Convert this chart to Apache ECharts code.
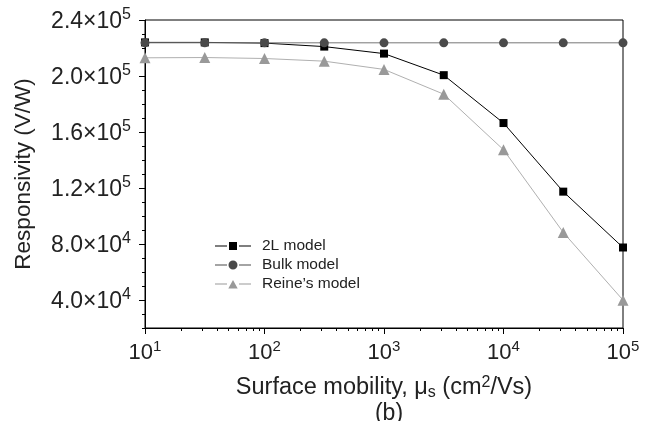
<!DOCTYPE html>
<html>
<head>
<meta charset="utf-8">
<script src="https://cdn.jsdelivr.net/npm/echarts@6/dist/echarts.min.js"></script>
<style>
  html, body { margin: 0; padding: 0; background: #fff; }
  #chart { width: 651px; height: 421px; }
</style>
</head>
<body>
<div id="chart"></div>
<script>
/**
 * DATA
 */
var mobility = [10, 31.62, 100, 316.2, 1000, 3162, 10000, 31620, 100000];
var model2L = [224000, 224000, 223500, 221000, 216000, 200600, 166400, 117400, 77500];
var bulkModel = [223700, 223700, 223700, 223700, 223700, 223700, 223700, 223700, 223700];
var reineModel = [213000, 213200, 212500, 210600, 204700, 187000, 147300, 88300, 39900];

var yLabelValues = [40000, 80000, 120000, 160000, 200000, 240000];
var xLabelValues = [10, 100, 1000, 10000, 100000];

/**
 * UTILS
 */
var FONT = 'Liberation Sans, Arial, sans-serif';

function pairs(xs, ys) {
    return xs.map(function (x, i) {
        return [x, ys[i]];
    });
}

// minor ticks of the y axis, every 1e4
var yMinorTicks = [];
for (var v = 20000; v <= 240000; v += 10000) {
    yMinorTicks.push(v);
}

// minor ticks of the log axis: 2..9 x 10^n
var xMinorTicks = [];
for (var d = 10; d < 100000; d *= 10) {
    for (var k = 2; k <= 9; k++) {
        xMinorTicks.push(k * d);
    }
}

function sciLabel(value) {
    var exp = Math.floor(Math.log10(value) + 1e-9);
    var mant = (value / Math.pow(10, exp)).toFixed(1);
    return '{b|' + mant + '\u00d710}{s|' + exp + '}';
}

// legend icons "—■—": box 42x10, tiny corner dots fix the bounding box
var CORNERS = 'M0,0h0.01v0.01h-0.01z M41.99,9.99h0.01v0.01h-0.01z ';
var DASHES = 'M0,4.5h12v1h-12z M24,4.5h12v1h-12z ';
var iconSquare = 'path://' + CORNERS + DASHES + 'M14,1h8v8h-8z';
var iconCircle = 'path://' + CORNERS + DASHES + 'M13.5,5a4.5,4.5 0 1,0 9,0a4.5,4.5 0 1,0 -9,0z';
var iconTriangle = 'path://' + CORNERS + DASHES + 'M13.3,9.5L18,1L22.7,9.5z';

/**
 * CHART
 */
var chart = echarts.init(document.getElementById('chart'), null, {renderer: 'canvas'});

var option = {
    backgroundColor: '#fff',
    animation: false,
    textStyle: {fontFamily: FONT},
    title: {
        text: '(b)',
        left: 384,
        top: 397,
        textAlign: 'center',
        textStyle: {fontFamily: FONT, fontSize: 23, fontWeight: 'normal', color: '#222'}
    },
    grid: {
        left: 145,
        right: 28,
        top: 20,
        bottom: 93,
        show: true,
        borderColor: '#000',
        borderWidth: 1,
        backgroundColor: 'transparent'
    },
    legend: {
        orient: 'vertical',
        left: 210,
        top: 233,
        itemWidth: 42,
        itemHeight: 10,
        itemGap: 3,
        data: [
            {name: '2L model', icon: iconSquare},
            {name: 'Bulk model', icon: iconCircle},
            {name: "Reine\u2019s model", icon: iconTriangle}
        ],
        textStyle: {fontFamily: FONT, fontSize: 15.5, color: '#222'}
    },
    xAxis: [
        {
            type: 'log',
            logBase: 10,
            min: 10,
            max: 100000,
            name: '{t|Surface mobility, \u03bc}{sub|s}{t| (cm}{sup|2}{t|/Vs)}',
            nameLocation: 'middle',
            nameGap: 47,
            nameTextStyle: {
                rich: {
                    t: {fontFamily: FONT, fontSize: 23.5, color: '#222'},
                    sub: {fontFamily: FONT, fontSize: 16, color: '#222', padding: [10, 0, 0, 0]},
                    sup: {fontFamily: FONT, fontSize: 16, color: '#222', padding: [0, 0, 10, 0]}
                }
            },
            axisLine: {lineStyle: {color: '#000', width: 1}},
            axisTick: {length: 6, lineStyle: {color: '#000'}},
            splitLine: {show: false},
            axisLabel: {
                margin: 11,
                customValues: xLabelValues,
                formatter: function (value) {
                    return '{b|10}{s|' + Math.round(Math.log10(value)) + '}';
                },
                rich: {
                    b: {fontFamily: FONT, fontSize: 22, color: '#222'},
                    s: {fontFamily: FONT, fontSize: 15, color: '#222', padding: [0, 0, 12, 0]}
                }
            }
        },
        {
            type: 'log',
            logBase: 10,
            min: 10,
            max: 100000,
            position: 'bottom',
            axisLine: {show: false},
            axisLabel: {show: false},
            splitLine: {show: false},
            axisTick: {length: 3, customValues: xMinorTicks, lineStyle: {color: '#000'}}
        }
    ],
    yAxis: [
        {
            type: 'value',
            min: 20000,
            max: 240000,
            interval: 20000,
            name: 'Responsivity (V/W)',
            nameLocation: 'middle',
            nameGap: 110,
            nameTextStyle: {fontFamily: FONT, fontSize: 22.5, color: '#222'},
            axisLine: {show: true, lineStyle: {color: '#000', width: 1}},
            axisTick: {show: true, length: 6, customValues: yLabelValues, lineStyle: {color: '#000'}},
            splitLine: {show: false},
            axisLabel: {
                margin: 14,
                customValues: yLabelValues,
                formatter: sciLabel,
                rich: {
                    b: {fontFamily: FONT, fontSize: 23, color: '#222', padding: [4, 0, 0, 0]},
                    s: {fontFamily: FONT, fontSize: 16, color: '#222', padding: [0, 0, 10, 0]}
                }
            }
        },
        {
            type: 'value',
            min: 20000,
            max: 240000,
            interval: 20000,
            position: 'left',
            axisLine: {show: false},
            axisLabel: {show: false},
            splitLine: {show: false},
            axisTick: {show: true, length: 3, customValues: yMinorTicks, lineStyle: {color: '#000'}}
        }
    ],
    series: [
        {
            name: "Reine\u2019s model",
            type: 'line',
            data: pairs(mobility, reineModel),
            symbol: 'triangle',
            symbolSize: 11,
            lineStyle: {color: '#b0b0b0', width: 1},
            itemStyle: {color: '#999999'},
            z: 2
        },
        {
            name: '2L model',
            type: 'line',
            data: pairs(mobility, model2L),
            symbol: 'rect',
            symbolSize: 8,
            lineStyle: {color: '#000', width: 1},
            itemStyle: {color: '#000'},
            z: 3
        },
        {
            name: 'Bulk model',
            type: 'line',
            data: pairs(mobility, bulkModel),
            symbol: 'circle',
            symbolSize: 9,
            lineStyle: {color: '#777', width: 1},
            itemStyle: {color: '#4a4a4a'},
            z: 4
        }
    ]
};

chart.setOption(option);
</script>
</body>
</html>
